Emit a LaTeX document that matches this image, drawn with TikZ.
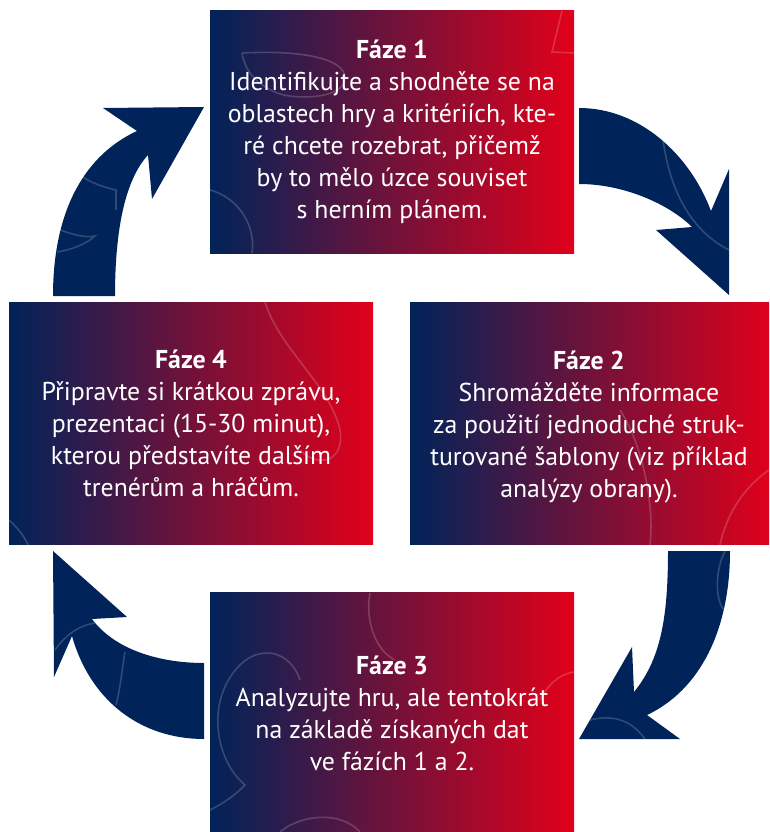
\documentclass[tikz,border=0pt]{standalone}
\usepackage{fontspec}
\setmainfont{PT Sans}
\usepackage{xcolor}
\usepackage{tikz}

\definecolor{navy}{HTML}{002359}
\definecolor{plum}{HTML}{62264F}
\definecolor{signalred}{HTML}{E2001A}

\tikzset{
  phasebox/.style={rectangle, minimum width=364pt, minimum height=242pt,
    inner sep=0pt, left color=navy, middle color=plum, right color=signalred,
    text=white, align=center, font=\fontsize{25.8}{32}\selectfont},
  cyclearrow/.style={fill=navy, draw=none},
  courtline/.style={draw=white, opacity=0.18, line width=1.6pt}
}

\begin{document}
\begin{tikzpicture}[x=1pt, y=-1pt]
      % Fix the page
      \useasboundingbox (0,0) rectangle (769,832);

      % Phase boxes
      \begin{scope}
        \clip (0,0) rectangle (769,832);
        \node[phasebox] (faze1) at (392,132) {};
        \node[phasebox] (faze2) at (592,423.5) {};
        \node[phasebox] (faze3) at (392,713) {};
        \node[phasebox] (faze4) at (191,423.5) {};
      \end{scope}

      % Faint court pattern on the boxes
      \draw[courtline] (242,53) .. controls (300,50) and (345,58) .. (345,78)
        .. controls (345,98) and (300,100) .. (280,94) .. controls (258,86) and (245,72) .. (242,53);
      \draw[courtline] (210,190) .. controls (240,198) and (256,228) .. (252,253);
      \draw[courtline] (562,11) -- (552,52) -- (574,53);
      \draw[courtline] (265,302) .. controls (280,350) and (330,385) .. (340,430)
        .. controls (345,460) and (320,470) .. (300,450);
      \draw[courtline] (9,520) .. controls (20,530) and (25,538) .. (28,545);
      \draw[courtline] (650,545) .. controls (655,500) and (640,440) .. (620,410);
      \draw[courtline] (769,470) .. controls (740,490) and (725,520) .. (720,545);
      \draw[courtline] (210,810) .. controls (230,800) and (240,790) .. (245,785)
        .. controls (215,760) and (205,700) .. (240,665) .. controls (260,645) and (290,650) .. (300,680);
      \draw[courtline] (370,593) .. controls (365,620) and (375,650) .. (395,660);
      \draw[courtline] (574,672) .. controls (555,675) and (545,690) .. (540,700);
      \draw[courtline] (280,832) .. controls (300,815) and (340,810) .. (360,832);

      % Texts of the phases
      \node[text=white, align=center, font=\fontsize{25.8}{32}\selectfont] (text1) at (faze1) {\textbf{Fáze 1}\\Identifikujte a shodněte se na\\oblastech hry a kritériích, kte-\\ré chcete rozebrat, přičemž\\by to mělo úzce souviset\\s herním plánem.};
      \node[text=white, align=center, font=\fontsize{25.8}{32}\selectfont] (text2) at (589,427) {\textbf{Fáze 2}\\Shromážděte informace\\za použití jednoduché struk-\\turované šablony (viz příklad\\analýzy obrany).};
      \node[text=white, align=center, font=\fontsize{25.8}{32}\selectfont] (text3) at (faze3) {\textbf{Fáze 3}\\Analyzujte hru, ale tentokrát\\na základě získaných dat\\ve fázích 1 a 2.};
      \node[text=white, align=center, font=\fontsize{25.8}{32}\selectfont] (text4) at (faze4) {\textbf{Fáze 4}\\Připravte si krátkou zprávu,\\prezentaci (15-30 minut),\\kterou představíte dalším\\trenérům a hráčům.};

      % Arrow from phase 1 to phase 2
      \fill[cyclearrow] (579,108) .. controls (640,108) and (690,155) .. (711,211)
        -- (729,169) -- (729,295) -- (656,230) -- (692,227)
        .. controls (670,205) and (625,184) .. (579,184) -- cycle;
      \draw[courtline] (663,140) .. controls (670,190) and (690,230) .. (729,250);

      % Arrow from phase 2 to phase 3
      \fill[cyclearrow] (730,551) .. controls (730,630) and (700,690) .. (647,715)
        -- (680,739) -- (579,739) -- (632,647) -- (634,692)
        .. controls (660,660) and (668,620) .. (668,551) -- cycle;
      \draw[courtline] (725,551) .. controls (715,570) and (715,600) .. (724,610);
      \draw[courtline] (590,720) .. controls (610,715) and (630,718) .. (645,739);

      % Arrow from phase 3 to phase 4
      \fill[cyclearrow] (204,739) .. controls (140,739) and (90,700) .. (72,636)
        -- (54,677) -- (53,551) -- (127,617) -- (92,619)
        .. controls (115,650) and (160,663) .. (204,663) -- cycle;
      \draw[courtline] (125,652) .. controls (122,670) and (120,690) .. (116,705);
      \draw[courtline] (55,650) .. controls (65,635) and (80,625) .. (95,623);

      % Arrow from phase 4 to phase 1
      \fill[cyclearrow] (53,296) .. controls (53,210) and (85,155) .. (137,131)
        -- (103,108) -- (204,107) -- (152,199) -- (148,155)
        .. controls (125,180) and (115,230) .. (115,296) -- cycle;
      \draw[courtline] (83,177) .. controls (95,185) and (108,188) .. (116,190) -- (116,210);
      \draw[courtline] (60,230) .. controls (75,235) and (85,238) .. (95,236)
        .. controls (85,245) and (70,250) .. (57,252);
    \end{tikzpicture}
\end{document}
